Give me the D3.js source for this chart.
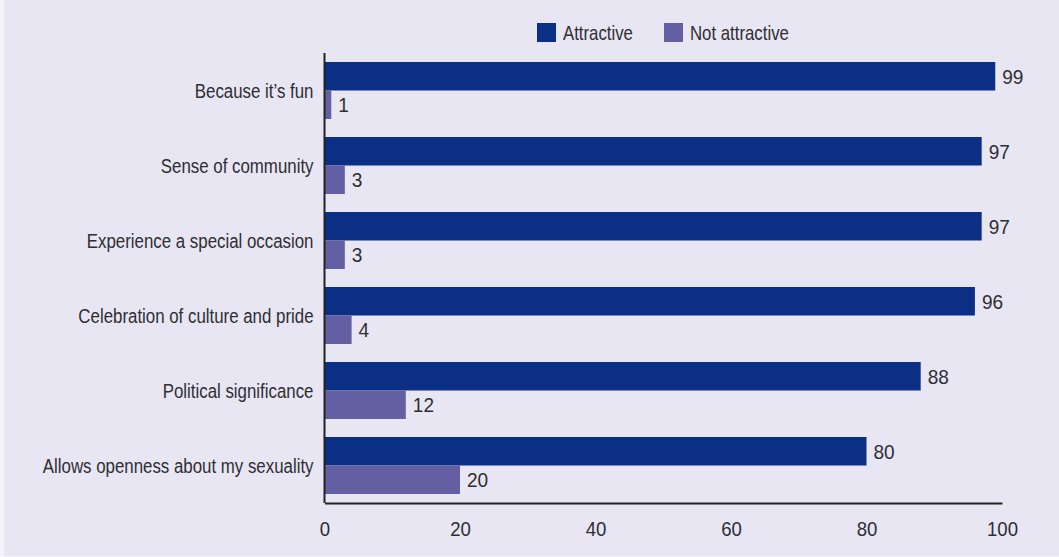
<!DOCTYPE html>
<html><head><meta charset="utf-8">
<script src="https://cdn.jsdelivr.net/npm/d3@7"></script>
<style>
html,body{margin:0;padding:0;background:#f4f3f9;}
svg{display:block;}
text{font-family:"Liberation Sans Narrow","Liberation Sans",Arial,sans-serif;fill:#2e2e33;}
</style></head>
<body>
<svg id="chart" width="1059" height="557"></svg>
<script>
const categories = ["Because it’s fun","Sense of community","Experience a special occasion","Celebration of culture and pride","Political significance","Allows openness about my sexuality"];
const seriesNames = ["Attractive","Not attractive"];
const attractive = [99,97,97,96,88,80];
const notAttractive = [1,3,3,4,12,20];
const xTicks = [0,20,40,60,80,100];
const colors = ["#0b2f85","#645ea3"];

// horizontal condensing (Helvetica Condensed look-alike)
function condense(sel, sx){
  sel.each(function(){
    const t = d3.select(this);
    const x = +t.attr("x") || 0;
    t.attr("x", x/sx).attr("transform", `scale(${sx},1)`);
  });
}

const svg = d3.select("#chart");
svg.append("rect").attr("x",4).attr("y",0).attr("width",1055).attr("height",556).attr("fill","#e8e6f3");

const x = d3.scaleLinear().domain([0,100]).range([324.5,1002]);
const y = d3.scaleBand().domain(categories).range([53,503]).paddingInner(0.24).paddingOuter(0.12);
const y2 = d3.scaleBand().domain(seriesNames).range([0,y.bandwidth()]);

const data = categories.map((c,i)=>({cat:c, vals:[attractive[i],notAttractive[i]]}));

const g = svg.append("g");
const groups = g.selectAll("g.grp").data(data).join("g").attr("transform",d=>`translate(0,${y(d.cat)})`);
groups.selectAll("rect").data(d=>d.vals.map((v,k)=>({v,k}))).join("rect")
  .attr("x",x(0)).attr("y",d=>y2(seriesNames[d.k])).attr("height",y2.bandwidth())
  .attr("width",d=>x(d.v)-x(0)).attr("fill",d=>colors[d.k]);
const vals = groups.selectAll("text.val").data(d=>d.vals.map((v,k)=>({v,k}))).join("text").attr("class","val")
  .attr("x",d=>x(d.v)+7).attr("y",d=>y2(seriesNames[d.k])+y2.bandwidth()/2).attr("dy","0.36em")
  .attr("font-size",20.5).text(d=>d.v);
condense(vals, 0.93);

// y axis
const yAxis = svg.append("g").attr("transform",`translate(${x(0)},0)`).call(d3.axisLeft(y).tickSize(0).tickPadding(11));
yAxis.select(".domain").attr("stroke","#222").attr("stroke-width",2).attr("d",`M0,53V503`);
const yt = yAxis.selectAll(".tick text").attr("font-size",21).attr("font-family",null).style("fill","#2e2e33").attr("dy","0.36em");
condense(yt, 0.803);

// x axis
const xAxis = svg.append("g").attr("transform",`translate(0,503)`).call(d3.axisBottom(x).tickValues(xTicks).tickSize(0).tickPadding(19));
xAxis.select(".domain").attr("stroke","#222").attr("stroke-width",2);
const xt = xAxis.selectAll(".tick text").attr("font-size",20).attr("font-family",null).style("fill","#2e2e33");
condense(xt, 0.93);

// legend
const legX = [537,664];
const leg = svg.append("g");
seriesNames.forEach((s,i)=>{
  leg.append("rect").attr("x",legX[i]).attr("y",23).attr("width",19).attr("height",19).attr("fill",colors[i]);
  const t = leg.append("text").attr("x",legX[i]+26).attr("y",32.5).attr("dy","0.36em").attr("font-size",20).text(s);
  condense(t, 0.84);
});
</script>
</body></html>
